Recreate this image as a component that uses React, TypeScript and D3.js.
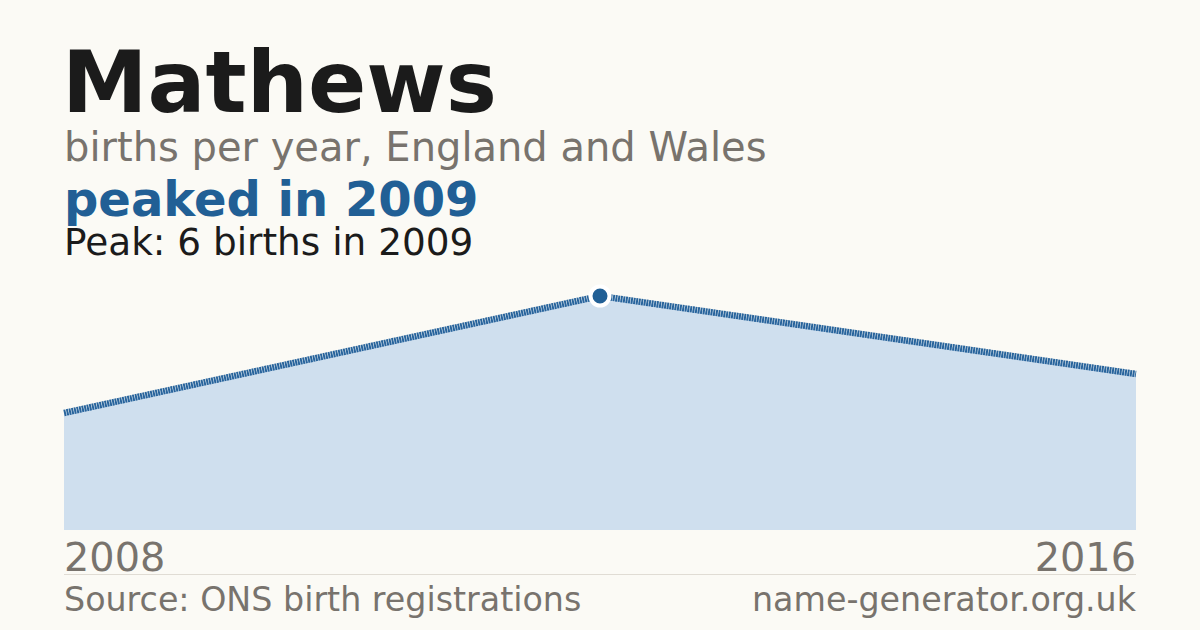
import React from "react";
import * as d3 from "d3";

const years = ["2008", "2009", "2016"];
const births = [3, 6, 4];
const peakYear = "2009";
const peakValue = 6;

const width = 1200;
const height = 630;
const left = 64;
const right = 1136;
const baseY = 530;
const topY = 296;

const font = "'DejaVu Sans', sans-serif";

export default function App(): React.ReactElement {
    const x = d3.scalePoint<string>().domain(years).range([left, right]);
    const y = d3.scaleLinear().domain([0, d3.max(births) ?? 1]).range([baseY, topY]);

    const points: [number, number][] = years.map((yr, i) => [x(yr) ?? 0, y(births[i])]);

    const area = d3.area<[number, number]>()
        .x((d) => d[0])
        .y0(baseY)
        .y1((d) => d[1]);

    const line = d3.line<[number, number]>()
        .x((d) => d[0])
        .y((d) => d[1]);

    const peakX = x(peakYear) ?? 0;
    const peakY = y(peakValue);

    return (
        <svg
            width={width}
            height={height}
            viewBox={`0 0 ${width} ${height}`}
            style={{ position: "absolute", top: 0, left: 0, display: "block" }}
        >
            <rect width={width} height={height} fill="#fbfaf5" />

            <text x={left - 2} y={112} fontFamily={font} fontWeight="bold" fontSize={86} fill="#1b1b1b">
                Mathews
            </text>
            <text x={left} y={161} fontFamily={font} fontSize={40} fill="#78736d">
                births per year, England and Wales
            </text>
            <text x={left} y={216} fontFamily={font} fontWeight="bold" fontSize={48} fill="#215f95">
                peaked in 2009
            </text>
            <text x={left} y={255} fontFamily={font} fontSize={37.4} fill="#1b1b1b">
                Peak: 6 births in 2009
            </text>

            <path d={area(points) ?? ""} fill="#cfdfee" />
            <path
                d={line(points) ?? ""}
                fill="none"
                stroke="#28649c"
                strokeWidth={6.5}
                strokeDasharray="2 0.6"
            />
            <circle cx={peakX} cy={peakY} r={9.5} fill="#215f95" stroke="#ffffff" strokeWidth={4} />

            <text x={left} y={571} fontFamily={font} fontSize={39.8} fill="#78736d">
                {years[0]}
            </text>
            <text x={right} y={571} fontFamily={font} fontSize={39.8} fill="#78736d" textAnchor="end">
                {years[years.length - 1]}
            </text>

            <line x1={left} x2={right} y1={574.5} y2={574.5} stroke="#e0dcd4" strokeWidth={1} />

            <text x={left} y={611} fontFamily={font} fontSize={33.3} fill="#78736d">
                Source: ONS birth registrations
            </text>
            <text x={right} y={611} fontFamily={font} fontSize={33.3} fill="#78736d" textAnchor="end">
                name-generator.org.uk
            </text>
        </svg>
    );
}
